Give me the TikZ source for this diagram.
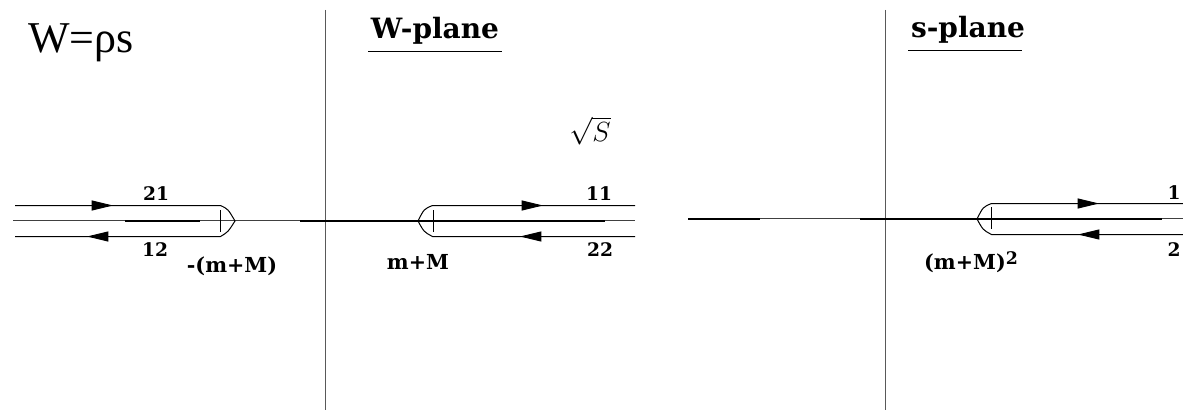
\documentclass[tikz,border=0pt]{standalone}
\usepackage{fontspec}
\setmainfont{Liberation Serif}
\newfontfamily\lblfont{DejaVu Serif}
\usetikzlibrary{arrows.meta}
\tikzset{
  thinline/.style={line width=0.55pt, black!75},
  thickline/.style={line width=1.5pt, black},
  axisv/.style={line width=0.75pt, black!65},
  contour/.style={line width=0.75pt, black},
  tip/.style={contour, -{Triangle[length=16pt,width=7.5pt]}},
  lbl/.style={font=\lblfont\bfseries\fontsize{14}{16}\selectfont, inner sep=0pt},
  ptlbl/.style={font=\lblfont\bfseries\fontsize{15.5}{17}\selectfont, inner sep=0pt},
  title/.style={font=\lblfont\bfseries\fontsize{21}{24}\selectfont, inner sep=0pt}
}
\begin{document}
\begin{tikzpicture}[x=0.75pt,y=-0.75pt]
\useasboundingbox (0,0) rectangle (1183,410);
% vertical axes
\coordinate (v1t) at (325.5,10); \coordinate (v1b) at (325.5,410);
\coordinate (v2t) at (885.5,10); \coordinate (v2b) at (885.5,410);
\draw[axisv] (v1t) -- (v1b);
\draw[axisv] (v2t) -- (v2b);
% horizontal axes
\coordinate (hLa) at (13,220.5); \coordinate (hLb) at (635,220.5);
\draw[thinline] (hLa) -- (hLb);
\coordinate (k1a) at (125,220.5); \coordinate (k1b) at (200,220.5);
\draw[thickline] (k1a) -- (k1b);
\coordinate (k2a) at (300,220.5); \coordinate (k2b) at (605,220.5);
\draw[thickline] (k2a) -- (k2b);
\coordinate (hRa) at (688,218.5); \coordinate (hRb) at (1183,218.5);
\draw[thinline] (hRa) -- (hRb);
\coordinate (k3a) at (688,218.5); \coordinate (k3b) at (760,218.5);
\draw[thickline] (k3a) -- (k3b);
\coordinate (k4a) at (860,218.5); \coordinate (k4b) at (1162,218.5);
\draw[thickline] (k4a) -- (k4b);

% left contour around -(m+M)
\coordinate (Lu0) at (15,205.5); \coordinate (Lu1) at (220.5,205.5);
\coordinate (Ll0) at (15,236.5); \coordinate (Ll1) at (220.5,236.5);
\coordinate (Lnose) at (235,221);
\coordinate (Lua) at (113,205.5); \coordinate (Lla) at (87,236.5);
\draw[contour] (Lu0) -- (Lu1) .. controls (228,209) .. (Lnose) .. controls (228,232) .. (Ll1) -- (Ll0);
\draw[tip] (Lu0) -- (Lua);
\draw[tip] (Ll1) -- (Lla);
\coordinate (Lt1) at (220.5,210); \coordinate (Lt2) at (220.5,232);
\draw[contour] (Lt1) -- (Lt2);

% middle contour around m+M
\coordinate (Mu0) at (635,205.5); \coordinate (Mu1) at (432.5,205.5);
\coordinate (Ml0) at (635,236.5); \coordinate (Ml1) at (432.5,236.5);
\coordinate (Mnose) at (418,221);
\coordinate (Mua) at (543,205.5); \coordinate (Mla) at (520,236.5);
\draw[contour] (Mu0) -- (Mu1) .. controls (424,209) .. (Mnose) .. controls (424,232) .. (Ml1) -- (Ml0);
\draw[tip] (Mu1) -- (Mua);
\draw[tip] (Ml0) -- (Mla);
\coordinate (Mt1) at (433.5,210); \coordinate (Mt2) at (433.5,232);
\draw[contour] (Mt1) -- (Mt2);

% right contour around (m+M)^2
\coordinate (Ru0) at (1183,203.5); \coordinate (Ru1) at (991.5,203.5);
\coordinate (Rl0) at (1183,234.5); \coordinate (Rl1) at (991.5,234.5);
\coordinate (Rnose) at (977,219);
\coordinate (Rua) at (1099,203.5); \coordinate (Rla) at (1078,234.5);
\draw[contour] (Ru0) -- (Ru1) .. controls (983,207) .. (Rnose) .. controls (983,230) .. (Rl1) -- (Rl0);
\draw[tip] (Ru1) -- (Rua);
\draw[tip] (Rl0) -- (Rla);
\coordinate (Rt1) at (991.5,207); \coordinate (Rt2) at (991.5,229);
\draw[contour] (Rt1) -- (Rt2);

% labels
\node[inner sep=0pt, font=\fontsize{33}{36}\selectfont] (eq) at (81,43) {W=ρs};
\node[title] (wp) at (435,31) {W-plane};
\coordinate (wpu1) at (368,51.5); \coordinate (wpu2) at (502,51.5);
\draw[line width=0.75pt] (wpu1) -- (wpu2);
\node[title] (sp) at (968,30) {s-plane};
\coordinate (spu1) at (908,50.5); \coordinate (spu2) at (1022,50.5);
\draw[line width=0.75pt] (spu1) -- (spu2);
\node[inner sep=0pt, font=\fontsize{22}{24}\selectfont] (sq) at (590,131) {$\sqrt{S}$};

\node[lbl] (n21) at (156,194) {21};
\node[lbl] (n12) at (155,250) {12};
\node[ptlbl] (nmM) at (232,266) {-(m+M)};
\node[lbl] (n11) at (599,194) {11};
\node[lbl] (n22) at (600,250) {22};
\node[ptlbl] (pmM) at (418,262) {m+M};
\node[lbl] (n1) at (1174,193) {1};
\node[lbl] (n2) at (1174,250) {2};
\node[ptlbl] (sqm) at (971,262) {(m+M)\raisebox{0.45ex}{\fontsize{13}{15}\selectfont 2}};
\end{tikzpicture}
\end{document}
